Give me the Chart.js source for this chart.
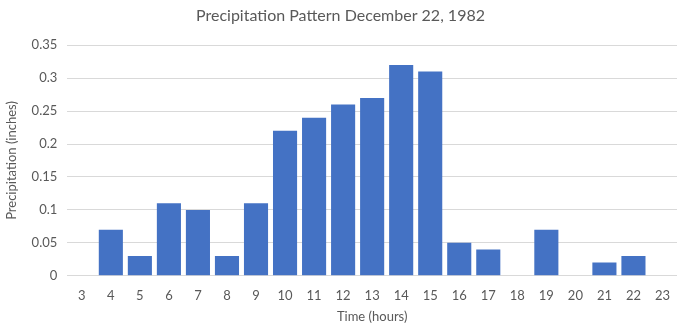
<!DOCTYPE html>
<html>
<head>
<meta charset="utf-8">
<script src="https://cdn.jsdelivr.net/npm/chart.js@4.4.1/dist/chart.umd.min.js"></script>
<style>
  html, body { margin: 0; padding: 0; background: #fff; }
  #wrap { width: 679px; height: 329px; }
</style>
</head>
<body>
<div id="wrap"><canvas id="myChart"></canvas></div>
<script>
var hours = ['3', '4', '5', '6', '7', '8', '9', '10', '11', '12', '13', '14', '15', '16', '17', '18', '19', '20', '21', '22', '23'];
var precipitation = [0, 0.07, 0.03, 0.11, 0.10, 0.03, 0.11, 0.22, 0.24, 0.26, 0.27, 0.32, 0.31, 0.05, 0.04, 0, 0.07, 0, 0.02, 0.03, 0];

var textColor = '#595959';
Chart.defaults.font.family = 'Lato, "Open Sans", sans-serif';

var ctx = document.getElementById('myChart').getContext('2d');
var myChart = new Chart(ctx, {
    type: 'bar',
    data: {
        labels: hours,
        datasets: [{
            label: 'Precipitation',
            data: precipitation,
            backgroundColor: '#4472C4',
            barPercentage: 0.83,
            categoryPercentage: 1.0
        }]
    },
    options: {
        responsive: true,
        maintainAspectRatio: false,
        animation: false,
        layout: { padding: { left: 4, right: 2, top: 6, bottom: 4 } },
        plugins: {
            legend: { display: false },
            tooltip: { enabled: false },
            title: {
                display: true,
                text: 'Precipitation Pattern December 22, 1982',
                color: textColor,
                font: { size: 16, weight: 'normal' },
                padding: { top: 0, bottom: 20 }
            }
        },
        scales: {
            x: {
                grid: { display: false },
                border: { display: false },
                ticks: { color: textColor, font: { size: 13 }, maxRotation: 0, autoSkip: false, padding: 4 },
                title: { display: true, text: 'Time (hours)', color: textColor, font: { size: 13 }, padding: { top: 2, bottom: 0 } }
            },
            y: {
                min: 0,
                max: 0.35,
                ticks: {
                    stepSize: 0.05, color: textColor, font: { size: 13 }, padding: 10,
                    callback: function (v) { return String(Number(v.toFixed(2))); }
                },
                grid: { color: '#d9d9d9', drawTicks: false },
                border: { display: false },
                title: { display: true, text: 'Precipitation (inches)', color: textColor, font: { size: 13 }, padding: { top: 0, bottom: 2 } }
            }
        }
    }
});
</script>
</body>
</html>
